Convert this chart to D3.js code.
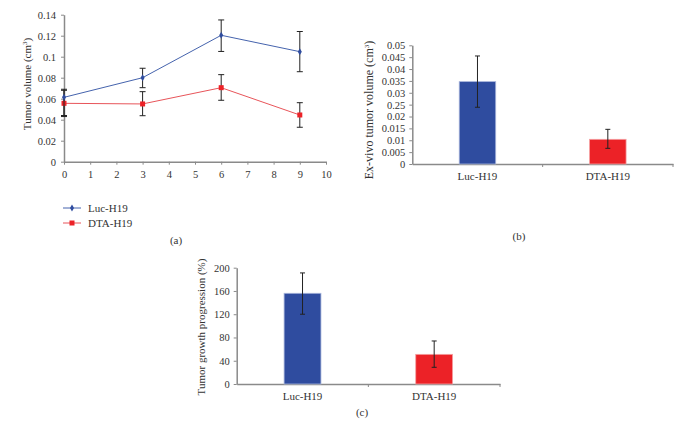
<!DOCTYPE html>
<html>
<head>
<meta charset="utf-8">
<script src="https://cdn.jsdelivr.net/npm/d3@7"></script>
<style>
  body { margin: 0; background: #fff; }
  svg { display: block; font-family: "Liberation Serif", "DejaVu Serif", serif; }
  .axis path, .axis line { stroke: #8a8a8a; }
  .axis text { fill: #333; font-size: 10.5px; font-family: "Liberation Serif", "DejaVu Serif", serif; }
</style>
</head>
<body>
<svg id="fig" width="681" height="424"></svg>
<script>
// ---- data ----
const days = [0, 3, 6, 9];
const lucVol = [0.0613, 0.080, 0.1204, 0.1048];
const lucHi = [0.069, 0.089, 0.135, 0.124];
const lucLo = [0.043, 0.0705, 0.105, 0.0857];
const dtaVol = [0.0556, 0.055, 0.0705, 0.0445];
const dtaHi = [0.068, 0.0667, 0.0829, 0.0562];
const dtaLo = [0.044, 0.0438, 0.0585, 0.0328];

const groups = ["Luc-H19", "DTA-H19"];
const exVivo = [0.0347, 0.0104];
const exVivoHi = [0.0455, 0.0146];
const exVivoLo = [0.0239, 0.0066];
const exTicks = [0, 0.005, 0.01, 0.015, 0.02, 0.025, 0.03, 0.035, 0.04, 0.045, 0.05];
const exTickLabels = ["0", "0.005", "0.01", "0.015", "0.02", "0.25", "0.03", "0.035", "0.04", "0.045", "0.05"];

const growth = [156, 51];
const growthHi = [191, 74];
const growthLo = [120, 28.7];
const growthTicks = [0, 40, 80, 120, 160, 200];

const blue = "#2f4c9f", red = "#ec2227";
const lineBlue = "#4563ad", lineRed = "#e8555a";

const svg = d3.select("#fig");

function errBar(g, x, y1, y2, cap) {
  g.append("line").attr("x1", x).attr("x2", x).attr("y1", y1).attr("y2", y2)
    .attr("stroke", "#222").attr("stroke-width", 1);
  [y1, y2].forEach(function (y) {
    g.append("line").attr("x1", x - cap).attr("x2", x + cap).attr("y1", y).attr("y2", y)
      .attr("stroke", "#222").attr("stroke-width", 1);
  });
}

// d3 axes put font-family="sans-serif" on the group, drop it
function plain(g) {
  g.attr("font-family", null).attr("font-size", null);
  g.select(".domain").attr("stroke-width", 1.5);
}

/**** (a) line chart ****/
const ga = svg.append("g");
const xa = d3.scaleLinear().domain([0, 10]).range([64, 326]);
const ya = d3.scaleLinear().domain([0, 0.14]).range([161.7, 14.7]);
const fmt = d => d === 0 ? "0" : String(+d.toFixed(3));

ga.append("g").attr("class", "axis").attr("transform", "translate(0,161.7)")
  .call(d3.axisBottom(xa).ticks(10).tickSize(3).tickSizeOuter(0).tickPadding(6))
  .call(plain);
ga.append("g").attr("class", "axis").attr("transform", "translate(64,0)")
  .call(d3.axisLeft(ya).tickValues(d3.range(0, 0.141, 0.02)).tickFormat(fmt).tickSize(3).tickSizeOuter(0).tickPadding(5))
  .call(plain);

ga.append("text").attr("transform", "translate(31,84) rotate(-90)").attr("text-anchor", "middle")
  .attr("font-size", 11).attr("fill", "#333")
  .html('Tumor volume (cm<tspan dy="-4" font-size="7">3</tspan><tspan dy="4">)</tspan>');

[[dtaVol, dtaHi, dtaLo, lineRed, red], [lucVol, lucHi, lucLo, lineBlue, blue]].forEach(function (s) {
  const line = d3.line().x((d, i) => xa(days[i])).y(d => ya(d));
  ga.append("path").datum(s[0]).attr("d", line).attr("fill", "none").attr("stroke", s[3]).attr("stroke-width", 1);
});
[[dtaVol, dtaHi, dtaLo, red, "sq"], [lucVol, lucHi, lucLo, blue, "di"]].forEach(function (s) {
  days.forEach(function (d, i) {
    errBar(ga, xa(d), ya(s[1][i]), ya(s[2][i]), 3);
  });
  days.forEach(function (d, i) {
    if (s[4] === "sq") {
      ga.append("rect").attr("x", xa(d) - 2.5).attr("y", ya(s[0][i]) - 2.5).attr("width", 5).attr("height", 5).attr("fill", s[3]);
    } else {
      ga.append("path").attr("d", d3.symbol(d3.symbolDiamond, 14)()).attr("transform", `translate(${xa(d)},${ya(s[0][i])})`).attr("fill", s[3]);
    }
  });
});

// legend
const leg = [["Luc-H19", lineBlue, blue, "di"], ["DTA-H19", lineRed, red, "sq"]];
leg.forEach(function (l, i) {
  const y = 208 + i * 15;
  ga.append("line").attr("x1", 63).attr("x2", 81).attr("y1", y).attr("y2", y).attr("stroke", l[1]).attr("stroke-width", 1);
  if (l[3] === "sq") ga.append("rect").attr("x", 69.5).attr("y", y - 2.5).attr("width", 5).attr("height", 5).attr("fill", l[2]);
  else ga.append("path").attr("d", d3.symbol(d3.symbolDiamond, 14)()).attr("transform", `translate(72,${y})`).attr("fill", l[2]);
  ga.append("text").attr("x", 88).attr("y", y + 4).attr("font-size", 11).attr("fill", "#333").text(l[0]);
});
ga.append("text").attr("x", 176).attr("y", 244).attr("text-anchor", "middle").attr("font-size", 11).attr("fill", "#333").text("(a)");

/**** bar charts ****/
function barChart(opt) {
  const g = svg.append("g");
  const x = d3.scaleBand().domain(groups).range([opt.x0, opt.x1]);
  const y = d3.scaleLinear().domain(opt.domain).range([opt.y0, opt.y1]);
  g.append("g").attr("class", "axis").attr("transform", `translate(0,${opt.y0})`)
    .call(d3.axisBottom(x).tickSize(0).tickPadding(8))
    .call(plain)
    .call(g2 => g2.selectAll("text").style("font-size", "11px"));
  // band separators
  [x(groups[1]), opt.x1].forEach(function (px) {
    g.append("line").attr("x1", px).attr("x2", px).attr("y1", opt.y0).attr("y2", opt.y0 + 3).attr("stroke", "#8a8a8a");
  });
  g.append("g").attr("class", "axis").attr("transform", `translate(${opt.x0},0)`)
    .call(d3.axisLeft(y).tickValues(opt.ticks).tickFormat((d, i) => opt.labels[i]).tickSize(3).tickSizeOuter(0).tickPadding(4))
    .call(plain);
  const bw = x.bandwidth() * 0.28;
  groups.forEach(function (k, i) {
    const cx = x(k) + x.bandwidth() / 2;
    g.append("rect").attr("x", cx - bw / 2).attr("y", y(opt.vals[i])).attr("width", bw)
      .attr("height", opt.y0 - y(opt.vals[i])).attr("fill", i === 0 ? blue : red)
      .attr("stroke", i === 0 ? "#a9b6dc" : "#f5a0a2").attr("stroke-width", 0.8);
    errBar(g, cx, y(opt.hi[i]), y(opt.lo[i]), 2.5);
  });
  g.append("text").attr("transform", `translate(${opt.tx},${opt.ty}) rotate(-90)`).attr("text-anchor", "middle")
    .attr("font-size", opt.fs).attr("fill", "#333").html(opt.title);
  g.append("text").attr("x", opt.lx).attr("y", opt.ly).attr("text-anchor", "middle").attr("font-size", 11).attr("fill", "#333").text(opt.label);
}

barChart({
  x0: 412.3, x1: 673, y0: 164, y1: 45.3, domain: [0, 0.05],
  ticks: exTicks, labels: exTickLabels, vals: exVivo, hi: exVivoHi, lo: exVivoLo,
  tx: 373, ty: 110, fs: 12, title: 'Ex-vivo tumor volume (cm<tspan dy="-4" font-size="7">3</tspan><tspan dy="4">)</tspan>',
  lx: 519, ly: 240, label: "(b)"
});

barChart({
  x0: 236.7, x1: 500, y0: 384, y1: 267.7, domain: [0, 200],
  ticks: growthTicks, labels: growthTicks.map(String), vals: growth, hi: growthHi, lo: growthLo,
  tx: 205, ty: 327, fs: 11, title: "Tumor growth progression (%)",
  lx: 362, ly: 416, label: "(c)"
});
</script>
</body>
</html>
